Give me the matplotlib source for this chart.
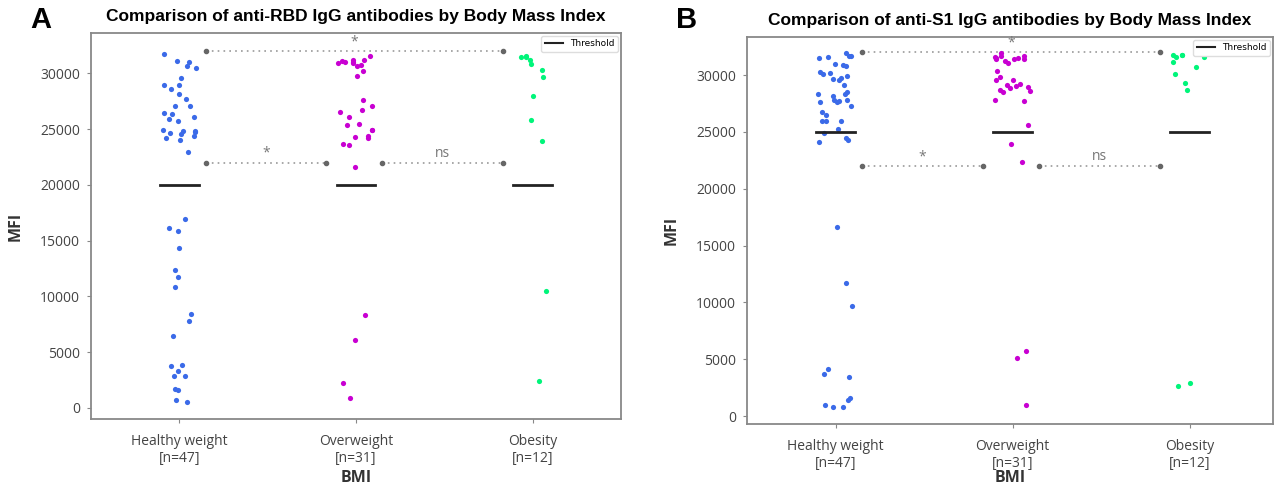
import numpy as np
import matplotlib
matplotlib.use('Agg')
import matplotlib.pyplot as plt
from matplotlib.lines import Line2D

# BMI 그룹과 샘플 수
groups = ['Healthy weight', 'Overweight', 'Obesity']
group_n = [47, 31, 12]

# anti-RBD IgG MFI
rbd_healthy = [31720, 30980, 31090, 30680, 30440, 29540, 28970, 28910, 28550, 28160,
               27690, 27030, 27060, 26400, 26340, 26100, 25870, 25740, 24850, 24940,
               24850, 24760, 24640, 24520, 24350, 24190, 24010, 22910, 16910, 15830,
               16100, 14340, 12340, 11740, 10820, 8450, 7800, 6450, 3820, 3730,
               3310, 2870, 2870, 1670, 1610, 560, 690]
rbd_over = [31570, 31000, 31180, 31030, 30890, 30710, 30620, 31180, 30950, 31100,
            30200, 29780, 27600, 27090, 26700, 26550, 26050, 25450, 25360, 24880,
            24880, 24370, 24250, 24190, 23680, 23530, 21620, 8330, 6090, 2210, 870]
rbd_obese = [31570, 31450, 31450, 31210, 30820, 30310, 29690, 27960, 25830, 23920,
             10450, 2390]
rbd_threshold = 20000

# anti-S1 IgG MFI
s1_healthy = [31910, 31670, 31520, 31670, 31550, 30970, 30790, 30850, 30060, 29770,
              30260, 30150, 29910, 29680, 29530, 29120, 28500, 28300, 28330, 28120,
              27830, 27620, 27600, 27740, 27800, 27270, 26750, 26450, 25980, 25980,
              25950, 25280, 24870, 24480, 24280, 24110, 16660, 11670, 9680, 4110,
              3670, 3400, 1610, 1000, 790, 790, 1380]
s1_over = [31930, 31490, 31700, 31430, 31670, 31380, 31260, 31430, 31520, 31550,
           31050, 30380, 29820, 29530, 29560, 29180, 28830, 28710, 29150, 29000,
           28940, 28570, 28500, 27800, 27680, 25630, 23930, 22370, 5690, 5100, 940]
s1_obese = [31760, 31730, 31800, 31580, 31610, 31140, 30730, 30110, 29320, 28710,
            2610, 2880]
s1_threshold = 25000

# 유의성 비교 (그룹 i, 그룹 j, 높이, 표기)
comparisons = [(0, 1, 22000, '*'), (1, 2, 22000, 'ns'), (0, 2, 32000, '*')]

colors = ['#3b6ae8', '#c800d2', '#00f57a']
font = 'Open Sans'
np.random.seed(7)


def draw_panel(ax, data, threshold, title, ylim, xlabel_y):
    for i, vals in enumerate(data):
        x = i + np.random.uniform(-0.1, 0.1, len(vals))
        ax.scatter(x, vals, s=14, color=colors[i], zorder=3, linewidths=0)
        ax.plot([i - 0.11, i + 0.11], [threshold, threshold], color='#222222', lw=2, zorder=4)

    for i, j, h, label in comparisons:
        x0, x1 = i + 0.15, j - 0.17
        ax.plot([x0, x1], [h, h], ls=(0, (1, 2.5)), color='#999999', lw=1.2)
        ax.plot([x0, x1], [h, h], ls='none', marker='o', ms=3, color='#666666')
        ax.text((x0 + x1) / 2, h + 150, label, ha='center', va='bottom',
                color='#777777', fontsize=10, family=font)

    ax.set_xlim(-0.5, 2.5)
    ax.set_ylim(*ylim)
    ax.set_xticks(range(3))
    ax.set_xticklabels(['%s\n[n=%d]' % (g, n) for g, n in zip(groups, group_n)],
                       family=font, fontsize=10, color='#444444')
    ax.set_yticks(range(0, 30001, 5000))
    ax.set_yticklabels([str(v) for v in range(0, 30001, 5000)],
                       family=font, fontsize=10, color='#444444')
    ax.tick_params(axis='both', length=3, color='#888888', pad=5)
    ax.tick_params(axis='x', pad=8)
    for sp in ax.spines.values():
        sp.set_color('#888888')
        sp.set_linewidth(1.3)
    ax.set_xlabel('BMI', family=font, fontweight='bold', fontsize=11.5, color='#333333')
    ax.xaxis.set_label_coords(0.5, xlabel_y)
    ax.set_ylabel('MFI', family=font, fontweight='bold', fontsize=11.5, color='#333333')
    ax.yaxis.set_label_coords(-0.128, 0.5)
    ax.set_title(title, family='Liberation Sans', fontweight='bold', fontsize=12.5, pad=9)
    handle = Line2D([0], [0], color='#222222', lw=1.5)
    leg = ax.legend([handle], ['Threshold'], loc='upper right', fontsize=6.5,
                    handlelength=2, borderpad=0.4, framealpha=1, borderaxespad=0.3)
    leg.get_frame().set_edgecolor('#dddddd')


fig = plt.figure(figsize=(12.74, 4.86), dpi=100)
ax1 = fig.add_axes([0.0714, 0.1379, 0.416, 0.794])
ax2 = fig.add_axes([0.5863, 0.1276, 0.4129, 0.796])

draw_panel(ax1, [rbd_healthy, rbd_over, rbd_obese], rbd_threshold,
           'Comparison of anti-RBD IgG antibodies by Body Mass Index', (-990, 33600), -0.132)
draw_panel(ax2, [s1_healthy, s1_over, s1_obese], s1_threshold,
           'Comparison of anti-S1 IgG antibodies by Body Mass Index', (-700, 33340), -0.119)
ax2.set_xlim(-0.5, 2.47)

fig.text(0.024, 0.958, 'A', family='Liberation Sans', fontweight='bold', fontsize=21, va='center')
fig.text(0.531, 0.958, 'B', family='Liberation Sans', fontweight='bold', fontsize=21, va='center')

plt.savefig('out.png', dpi=100)
